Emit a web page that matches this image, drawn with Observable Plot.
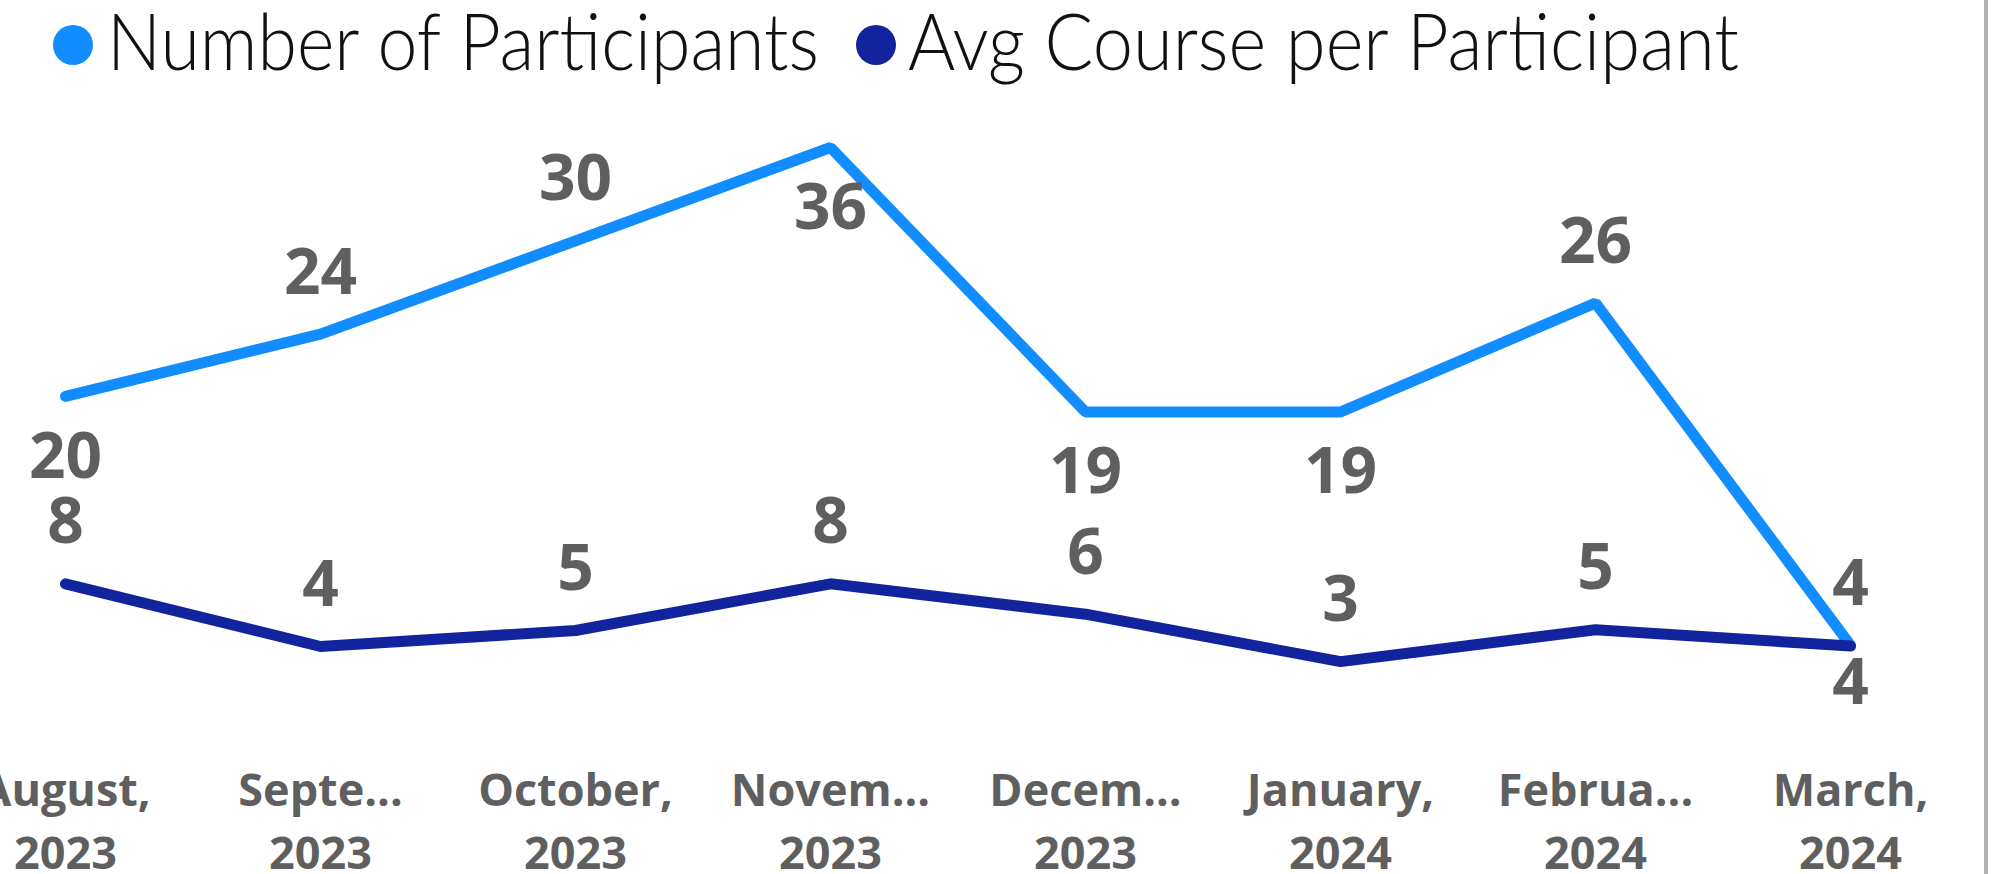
<!DOCTYPE html>
<html>
<head>
<meta charset="utf-8">
<script src="https://cdn.jsdelivr.net/npm/d3@7"></script>
<script src="https://cdn.jsdelivr.net/npm/@observablehq/plot@0.6"></script>
<style>
  html, body { margin: 0; padding: 0; background: #fff; overflow: hidden; width: 1999px; height: 874px; }
  #legend { position: absolute; left: 0; top: 0; width: 1999px; height: 100px; }
  .dot { position: absolute; width: 40px; height: 40px; border-radius: 50%; }
  .lab { position: absolute; left: 0; top: 0; font-family: Lato, "Open Sans", Roboto, sans-serif; font-weight: 300;
         font-size: 78px; line-height: 1; color: #111; white-space: nowrap; transform-origin: 0 0; }
  #chart { position: absolute; left: 0; top: 100px; }
  #border { position: absolute; left: 1984px; top: 0; width: 4px; height: 874px; background: #b3b3b3; }
</style>
</head>
<body>
<div id="legend"></div>
<div id="chart"></div>
<div id="border"></div>
<script>
// ---- data ----
const months = ["August, 2023", "September, 2023", "October, 2023", "November, 2023",
                "December, 2023", "January, 2024", "February, 2024", "March, 2024"];
const tickMonth = ["August,", "Septe...", "October,", "Novem...", "Decem...", "January,", "Februa...", "March,"];
const tickYear = ["2023", "2023", "2023", "2023", "2023", "2024", "2024", "2024"];
const participants = [20, 24, 30, 36, 19, 19, 26, 4];
const avgCourse = [7.95, 3.92, 4.95, 7.95, 6.0, 2.95, 5.0, 3.95];
const seriesNames = ["Number of Participants", "Avg Course per Participant"];

// ---- style ----
const colors = ["#118DFF", "#12239E"];
const labelGray = "#5f5f5f";
const partPlace = ["below", "above", "above", "below", "below", "below", "above", "above"];
const avgPlace = ["above", "above", "above", "above", "above", "above", "above", "tight"];

const rows = months.map((m, i) => ({
  month: m, tick: tickMonth[i] + "\n" + tickYear[i],
  participants: participants[i], avg: avgCourse[i],
  pPlace: partPlace[i], aPlace: avgPlace[i]
}));

const labelFont = {fontSize: 64, fontWeight: 700, fill: labelGray, fontFamily: "'Open Sans', 'DejaVu Sans', sans-serif", lineAnchor: "middle"};

function labels(key, placeKey, place, dy) {
  return Plot.text(rows.filter(d => d[placeKey] === place), {
    x: "month", y: key, text: d => String(Math.round(d[key])), dy, ...labelFont
  });
}

const chart = Plot.plot({
  width: 1999,
  height: 774,
  marginLeft: 62.5,
  marginRight: 146.5,
  marginTop: 47,
  marginBottom: 167,
  style: {background: "transparent", overflow: "hidden"},
  x: {type: "point", domain: months, padding: 0, axis: null},
  y: {domain: [0, 36], axis: null},
  marks: [
    Plot.line(rows, {x: "month", y: "participants", stroke: colors[0], strokeWidth: 11, strokeLinejoin: "miter", strokeLinecap: "round"}),
    Plot.line(rows, {x: "month", y: "avg", stroke: colors[1], strokeWidth: 11, strokeLinejoin: "miter", strokeLinecap: "round"}),
    labels("participants", "pPlace", "above", -61),
    labels("participants", "pPlace", "below", 61),
    labels("avg", "aPlace", "above", -61),
    labels("avg", "aPlace", "tight", 37),
    Plot.text(rows, {
      x: "month", text: "tick", frameAnchor: "bottom", lineAnchor: "bottom", lineHeight: 1.4, dy: 161,
      fontSize: 45, fontWeight: 700, fill: labelGray, fontFamily: "'Open Sans', 'DejaVu Sans', sans-serif"
    })
  ]
});
document.getElementById("chart").appendChild(chart);

// ---- legend ----
const legendLayout = [
  {dotLeft: 52.7, textLeft: 107, textWidth: 712},
  {dotLeft: 856, textLeft: 908, textWidth: 831}
];
const legend = document.getElementById("legend");
seriesNames.forEach((name, i) => {
  const dot = document.createElement("div");
  dot.className = "dot";
  dot.style.left = legendLayout[i].dotLeft + "px";
  dot.style.top = "25px";
  dot.style.background = colors[i];
  legend.appendChild(dot);
  const lab = document.createElement("span");
  lab.className = "lab";
  lab.textContent = name;
  const probe = document.createElement("span");
  probe.style.cssText = "display:inline-block;width:0;height:0;vertical-align:baseline";
  lab.appendChild(probe);
  legend.appendChild(lab);
  const r = lab.getBoundingClientRect();
  const base = probe.getBoundingClientRect().top - r.top;
  lab.style.top = (70 - base) + "px";
  lab.style.left = legendLayout[i].textLeft + "px";
  lab.style.transform = `scaleX(${legendLayout[i].textWidth / r.width})`;
});
</script>
</body>
</html>
